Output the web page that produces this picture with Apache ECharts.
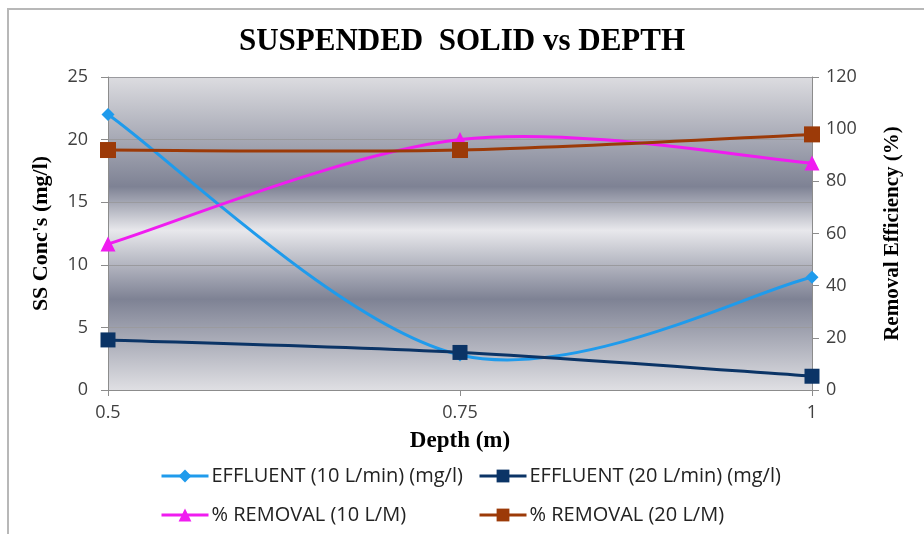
<!DOCTYPE html>
<html>
<head>
<meta charset="utf-8">
<script src="https://cdn.jsdelivr.net/npm/echarts@6/dist/echarts.min.js"></script>
<style>
  html, body { margin: 0; padding: 0; background: #ffffff; }
  #chart { width: 924px; height: 534px; }
</style>
</head>
<body>
<div id="chart"></div>
<script>
// Sampling depths (m)
const depths = ['0.5', '0.75', '1'];

// Suspended solid concentration in effluent (mg/l), left axis
const effluent10 = [22, 2.8, 9];
const effluent20 = [4, 3, 1.1];

// Removal efficiency (%), right axis
const removal10 = [56, 96, 87];
const removal20 = [92, 92, 98];

// Axis ticks
const leftTicks = { min: 0, max: 25, interval: 5 };
const rightTicks = { min: 0, max: 120, interval: 20 };

const names = [
  'EFFLUENT (10 L/min) (mg/l)',
  'EFFLUENT (20 L/min) (mg/l)',
  '% REMOVAL (10 L/M)',
  '% REMOVAL (20 L/M)'
];

const colors = ['#1f9bec', '#0b3466', '#f01cf0', '#9c3a08'];

const sansFont = '"Open Sans", "Liberation Sans", sans-serif';
const serifFont = '"Liberation Serif", "Times New Roman", serif';

const chart = echarts.init(document.getElementById('chart'), null, { renderer: 'canvas' });

function legendAt(name, left, top) {
  return {
    data: [name],
    left: left,
    top: top,
    itemWidth: 47,
    itemHeight: 16,
    itemGap: 0,
    padding: 0,
    lineStyle: { width: 3 },
    textStyle: { fontFamily: sansFont, fontSize: 20, color: '#222', padding: [0, 0, 0, -2] }
  };
}

// Smoothed curve through a series: each segment i -> i+1 is a cubic Bezier
// whose tangents follow the neighbouring points (Catmull-Rom, factor 1/6).
function smoothCurve(values, yAxisIndex, color) {
  return {
    type: 'custom',
    yAxisIndex: yAxisIndex,
    silent: true,
    z: 2,
    data: values.map((v, i) => [i, v]),
    renderItem: function (params, api) {
      const i = params.dataIndex;
      const n = values.length;
      if (i >= n - 1) return null;
      const pt = k => {
        const j = Math.max(0, Math.min(n - 1, k));
        return api.coord([j, values[j]]);
      };
      const p0 = pt(i - 1), p1 = pt(i), p2 = pt(i + 1), p3 = pt(i + 2);
      return {
        type: 'bezierCurve',
        shape: {
          x1: p1[0], y1: p1[1],
          cpx1: p1[0] + (p2[0] - p0[0]) / 6, cpy1: p1[1] + (p2[1] - p0[1]) / 6,
          cpx2: p2[0] - (p3[0] - p1[0]) / 6, cpy2: p2[1] - (p3[1] - p1[1]) / 6,
          x2: p2[0], y2: p2[1]
        },
        style: { fill: 'none', stroke: color, lineWidth: 3 }
      };
    }
  };
}

function markers(name, values, yAxisIndex, color, symbol, size) {
  return {
    name: name,
    type: 'line',
    yAxisIndex: yAxisIndex,
    data: values,
    symbol: symbol,
    symbolSize: size,
    showSymbol: true,
    lineStyle: { color: color, width: 0 },
    itemStyle: { color: color },
    z: 3
  };
}

chart.setOption({
  animation: false,
  backgroundColor: '#ffffff',
  title: {
    text: 'SUSPENDED  SOLID vs DEPTH',
    left: 'center',
    top: 21,
    textStyle: { fontFamily: serifFont, fontWeight: 'bold', fontSize: 31, color: '#000' }
  },
  graphic: [{
    type: 'rect',
    silent: true,
    shape: { x: 8, y: 9, width: 940, height: 560 },
    style: { fill: 'none', stroke: '#b8b8b8', lineWidth: 2 }
  }],
  legend: [
    legendAt(names[0], 160, 466),
    legendAt(names[1], 478, 466),
    legendAt(names[2], 160, 505),
    legendAt(names[3], 478, 505)
  ],
  grid: {
    left: 108, right: 112, top: 77, bottom: 144,
    show: true,
    borderWidth: 0,
    backgroundColor: new echarts.graphic.LinearGradient(0, 0, 0, 1, [
      { offset: 0.00, color: '#dcdce0' },
      { offset: 0.35, color: '#7e8294' },
      { offset: 0.49, color: '#e8e8ec' },
      { offset: 0.71, color: '#7e8294' },
      { offset: 1.00, color: '#dfdfe3' }
    ])
  },
  xAxis: {
    type: 'category',
    data: depths,
    boundaryGap: false,
    name: 'Depth (m)',
    nameLocation: 'middle',
    nameGap: 40,
    nameTextStyle: { fontFamily: serifFont, fontWeight: 'bold', fontSize: 23, color: '#000' },
    axisLine: { lineStyle: { color: '#8c8c8c', width: 1 } },
    axisTick: { alignWithLabel: true, length: 6, lineStyle: { color: '#8c8c8c' } },
    axisLabel: { fontFamily: sansFont, fontSize: 18, color: '#404040', margin: 14 },
    splitLine: { show: false }
  },
  yAxis: [{
    type: 'value',
    min: leftTicks.min, max: leftTicks.max, interval: leftTicks.interval,
    name: "SS Conc's (mg/l)",
    nameLocation: 'middle',
    nameGap: 56,
    nameTextStyle: { fontFamily: serifFont, fontWeight: 'bold', fontSize: 22, color: '#000' },
    axisLine: { show: true, lineStyle: { color: '#8c8c8c' } },
    axisTick: { show: true, length: 7, lineStyle: { color: '#8c8c8c' } },
    axisLabel: { fontFamily: sansFont, fontSize: 18, color: '#404040', margin: 20 },
    splitLine: { show: true, lineStyle: { color: '#9a9a9e', width: 1 } }
  }, {
    type: 'value',
    min: rightTicks.min, max: rightTicks.max, interval: rightTicks.interval,
    name: 'Removal Efficiency (%)',
    nameLocation: 'middle',
    nameGap: 70,
    nameRotate: 90,
    nameTextStyle: { fontFamily: serifFont, fontWeight: 'bold', fontSize: 21, color: '#000' },
    axisLine: { show: true, lineStyle: { color: '#8c8c8c' } },
    axisTick: { show: true, length: 7, lineStyle: { color: '#8c8c8c' } },
    axisLabel: { fontFamily: sansFont, fontSize: 18, color: '#404040', margin: 14 },
    splitLine: { show: false }
  }],
  series: [
    smoothCurve(effluent10, 0, colors[0]),
    smoothCurve(effluent20, 0, colors[1]),
    smoothCurve(removal10, 1, colors[2]),
    smoothCurve(removal20, 1, colors[3]),
    markers(names[0], effluent10, 0, colors[0], 'diamond', 13),
    markers(names[1], effluent20, 0, colors[1], 'rect', 15),
    markers(names[2], removal10, 1, colors[2], 'triangle', 15),
    markers(names[3], removal20, 1, colors[3], 'rect', 16)
  ]
});
</script>
</body>
</html>
